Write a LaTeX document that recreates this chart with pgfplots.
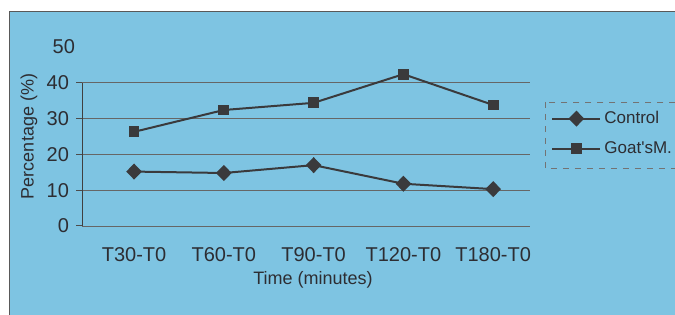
\documentclass[border=0pt]{standalone}
\usepackage{fontspec}
\setmainfont{Liberation Sans}
\usepackage{pgfplots}
\pgfplotsset{compat=1.18}
\definecolor{bg}{RGB}{126,196,226}
\definecolor{ln}{RGB}{58,58,60}
\definecolor{txt}{RGB}{45,45,50}
\begin{document}
\begin{tikzpicture}
\path[use as bounding box] (0,0) rectangle (337.5pt,157.5pt);
\fill[white] (0,0) rectangle (337.5pt,157.5pt);
\fill[bg] (4.5pt,0) rectangle (337.5pt,151.5pt);
\draw[black!65, line width=0.5pt] (4.5pt,0) -- (4.5pt,151.5pt) -- (337.5pt,151.5pt);
\begin{axis}[
  at={(41pt,44.5pt)}, anchor=south west,
  scale only axis, width=224pt, height=89.5pt,
  xmin=-0.58, xmax=4.41, ymin=0, ymax=50,
  clip=false,
  axis x line*=bottom, axis y line*=left,
  x axis line style={draw=none}, y axis line style={draw=none},
  xtick={0,1,2,3,4},
  xticklabels={T30-T0,T60-T0,T90-T0,T120-T0,T180-T0},
  major x tick style={draw=none},
  xticklabel style={font=\fontsize{10}{12}\selectfont, text=txt, yshift=-4pt},
  ytick={0,10,20,30,40},
  extra y ticks={50},
  extra y tick style={grid=none, major tick length=0pt},
  yticklabel style={font=\fontsize{10}{12}\selectfont, text=txt},
  /pgf/number format/assume math mode=true,
  tick align=outside, major tick length=3pt,
  major y tick style={draw=black!70, line width=0.5pt},
  ymajorgrids, grid style={draw=black!60, line width=0.45pt},
  ylabel={Percentage (\%)},
  ylabel style={at={(axis description cs:-0.1183,0.5)}, anchor=center, font=\fontsize{9}{11}\selectfont, text=txt},
  xlabel={Time (minutes)},
  xlabel style={at={(axis description cs:0.5156,-0.30)}, anchor=center, font=\fontsize{9}{11}\selectfont, text=txt},
  legend style={at={(1.0335,0.675)}, anchor=north west, fill=none, draw=none,
    font=\fontsize{8.5}{10}\selectfont, text=txt, /tikz/row sep=6.5pt, inner xsep=3pt, inner ysep=2.2pt,
    nodes={inner xsep=1.5pt, inner ysep=0.5pt}},
  legend cell align=left,
  legend image code/.code={\draw[mark repeat=2,mark phase=2,solid] plot coordinates {(0pt,0pt)(12pt,0pt)(24pt,0pt)};},
]
\draw[black!75, line width=0.5pt] (axis cs:-0.58,0) -- (axis cs:-0.58,40);
\draw[black!55, line width=0.4pt, dashed] (rel axis cs:1.0335,0.693) rectangle (rel axis cs:1.42,0.324);
\addplot[ln, line width=1pt, mark=diamond*, mark size=3.3pt, mark options={solid, fill=ln, xscale=1.3}]
  coordinates {(0,15.2) (1,14.8) (2,17.0) (3,11.8) (4,10.3)};
\addlegendentry{Control}
\addplot[ln, line width=1pt, mark=square*, mark size=2.2pt, mark options={solid, fill=ln}]
  coordinates {(0,26.3) (1,32.4) (2,34.4) (3,42.4) (4,33.8)};
\addlegendentry{Goat\textquotesingle sM.}
\end{axis}
\end{tikzpicture}
\end{document}
